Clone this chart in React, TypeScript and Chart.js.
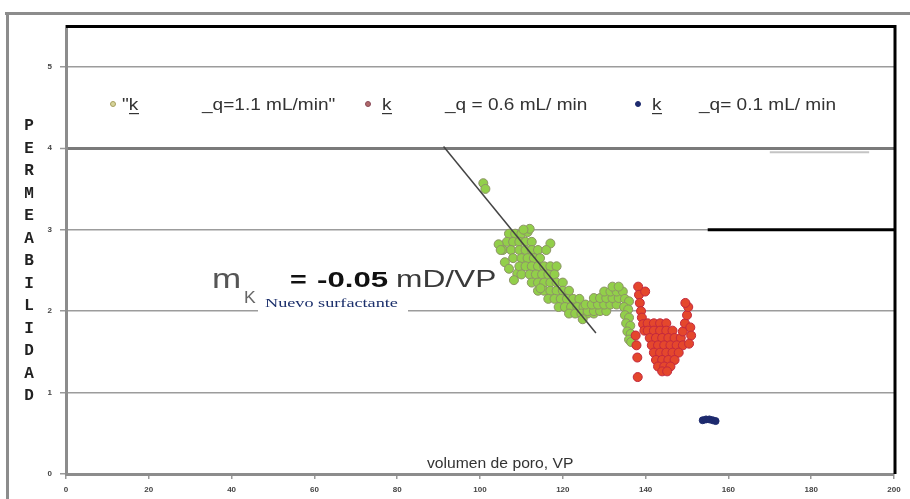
import React, { useEffect, useRef } from 'react';
import { Chart, registerables } from 'chart.js';

Chart.register(...registerables);

// ---- data ----
const xTickValues = [0, 20, 40, 60, 80, 100, 120, 140, 160, 180, 200];
const yTickValues = [0, 1, 2, 3, 4, 5];

const legendKLabels = ['"k', 'k', 'k'];
const legendQLabels = ['_q=1.1 mL/min"', '_q = 0.6 mL/ min', '_q= 0.1 mL/ min'];
const seriesNames = ['"k_ _q=1.1 mL/min"', 'k_ _q = 0.6 mL/ min', 'k_ _q= 0.1 mL/ min'];

const axisXTitle = 'volumen de poro, VP';
const axisYTitle = 'PERMEABILIDAD';
const slopeSymbol = 'm';
const slopeSub = 'K';
const slopeEq = '=';
const slopeValue = '-0.05';
const slopeUnit = 'mD/VP';
const slopeNote = 'Nuevo surfactante';

const q11Points: [number, number][] = [
  [100.8, 3.57], [101.3, 3.5],
  [107, 2.95], [108.5, 2.95], [110, 2.95], [111.5, 2.97], [112, 3.01], [110.5, 3.0],
  [106.5, 2.85], [108, 2.85], [109.5, 2.85], [111, 2.85], [112.5, 2.85],
  [105.5, 2.75], [107.5, 2.75], [109.5, 2.75], [111, 2.75], [112.5, 2.75], [114, 2.75],
  [104.5, 2.82], [105, 2.75], [117, 2.83], [116, 2.75],
  [108, 2.65], [110, 2.65], [111.5, 2.65], [113, 2.65], [114.5, 2.65],
  [106, 2.6], [107, 2.52], [109, 2.46], [108.2, 2.38],
  [109.5, 2.55], [111, 2.55], [112.5, 2.55], [114, 2.55], [115.5, 2.55], [117, 2.55], [118.5, 2.55],
  [110, 2.45], [112, 2.45], [113.5, 2.45], [115, 2.45], [116.5, 2.45], [118, 2.45],
  [112.5, 2.35], [114, 2.35], [115.5, 2.35], [117, 2.35], [118.5, 2.35], [120, 2.35],
  [114, 2.25], [115.5, 2.25], [117, 2.25], [118.5, 2.25], [120, 2.25], [121.5, 2.25], [114.6, 2.28],
  [116.5, 2.15], [118, 2.15], [119.5, 2.15], [121, 2.15], [122.5, 2.15], [124, 2.15],
  [119, 2.05], [120.5, 2.05], [122, 2.05], [123.5, 2.05], [125, 2.05], [126.5, 2.05],
  [121.5, 1.97], [123, 1.97], [124.5, 1.97], [126, 1.97], [127.5, 1.97], [124.8, 1.9],
  [126, 2.0], [127.5, 2.0], [129, 2.0], [130.5, 2.0],
  [125.5, 2.08], [127, 2.08], [128.5, 2.08], [130, 2.08], [131.5, 2.08], [133, 2.08],
  [127.5, 2.16], [129, 2.16], [130.5, 2.16], [132, 2.16], [133.5, 2.16],
  [130, 2.24], [131.5, 2.24], [133, 2.24], [134.5, 2.24],
  [132, 2.3], [133.5, 2.3],
  [135, 2.15], [136, 2.12], [134.8, 2.05], [135.8, 2.02], [135, 1.95], [136, 1.92],
  [135.3, 1.85], [136.3, 1.82], [135.6, 1.75], [136.4, 1.72], [136, 1.65], [136.5, 1.62],
];

const q06Points: [number, number][] = [
  [138.2, 2.3], [138.4, 2.2], [138.6, 2.1], [138.9, 2.0], [139.1, 1.92], [139.4, 1.84],
  [139.9, 2.24], [139.7, 1.76], [137.6, 1.7], [137.8, 1.58],
  [140.5, 1.85], [142, 1.85], [143.5, 1.85], [145, 1.85],
  [140.5, 1.76], [142, 1.76], [143.5, 1.76], [145, 1.76], [146.5, 1.76],
  [141, 1.67], [142.5, 1.67], [144, 1.67], [145.5, 1.67], [147, 1.67], [148.5, 1.67],
  [141.5, 1.58], [143, 1.58], [144.5, 1.58], [146, 1.58], [147.5, 1.58], [149, 1.58],
  [142, 1.49], [143.5, 1.49], [145, 1.49], [146.5, 1.49], [148, 1.49],
  [142.5, 1.4], [144, 1.4], [145.5, 1.4], [147, 1.4],
  [143, 1.32], [144.5, 1.32], [146, 1.32], [144, 1.26], [145.2, 1.26],
  [149, 1.75], [149.5, 1.85], [150, 1.95], [150.3, 2.05], [149.6, 2.1],
  [150.8, 1.8], [151, 1.7], [150.5, 1.6],
  [138, 1.43], [138.1, 1.19],
];

const q01Points: [number, number][] = [
  [153.8, 0.66], [154.6, 0.67], [155.4, 0.67], [156.2, 0.66], [156.9, 0.65],
];

const trendLine: [number, number][] = [[91.2, 4.02], [128, 1.73]];
const blackSegment: [number, number][] = [[155, 3.0], [200, 3.0]];
const greySegment: [number, number][] = [[170, 3.95], [194, 3.95]];

const toXY = (arr: [number, number][]) => arr.map(([x, y]) => ({ x, y }));

function drawStretched(
  ctx: CanvasRenderingContext2D,
  text: string,
  x: number,
  y: number,
  font: string,
  color: string,
  sx: number
) {
  ctx.save();
  ctx.translate(x, y);
  ctx.scale(sx, 1);
  ctx.font = font;
  ctx.fillStyle = color;
  ctx.textBaseline = 'alphabetic';
  ctx.textAlign = 'left';
  ctx.fillText(text, 0, 0);
  ctx.restore();
}

const decorPlugin = {
  id: 'decor',
  beforeDraw(chart: any) {
    const { ctx, width, height } = chart;
    ctx.save();
    ctx.fillStyle = '#ffffff';
    ctx.fillRect(0, 0, width, height);
    ctx.strokeStyle = '#8c8c8c';
    ctx.lineWidth = 3;
    ctx.beginPath();
    ctx.moveTo(5, 13.5);
    ctx.lineTo(width, 13.5);
    ctx.moveTo(7.5, 12);
    ctx.lineTo(7.5, height);
    ctx.stroke();
    ctx.restore();
  },
  beforeDatasetsDraw(chart: any) {
    const { ctx } = chart;
    ctx.save();
    ctx.fillStyle = '#ffffff';
    ctx.fillRect(258, 300, 150, 16);
    ctx.restore();
  },
  afterDatasetsDraw(chart: any) {
    const { ctx, chartArea } = chart;
    const { left, right, top, bottom } = chartArea;
    ctx.save();
    // plot border (top + right)
    ctx.strokeStyle = '#000';
    ctx.lineWidth = 3;
    ctx.beginPath();
    ctx.moveTo(left, top + 0.5);
    ctx.lineTo(right + 1, top + 0.5);
    ctx.lineTo(right + 1, bottom);
    ctx.stroke();

    // legend
    const legendX = [
      { m: 113, k: 122, q: 202 },
      { m: 368, k: 382, q: 445 },
      { m: 638, k: 652, q: 699 },
    ];
    const markerFill = ['#d6d49a', '#b06a6a', '#1d2a6e'];
    const markerStroke = ['#a8a060', '#8a4a5a', '#1d2a6e'];
    const ly = 110;
    const lfont = '17px "Liberation Sans", Arial';
    legendX.forEach((p, i) => {
      ctx.beginPath();
      ctx.arc(p.m, ly - 6, 2.5, 0, Math.PI * 2);
      ctx.fillStyle = markerFill[i];
      ctx.fill();
      ctx.strokeStyle = markerStroke[i];
      ctx.lineWidth = 1;
      ctx.stroke();
      drawStretched(ctx, legendKLabels[i], p.k, ly, lfont, '#333', 1.12);
      ctx.fillStyle = '#333';
      ctx.fillRect(p.k + (i === 0 ? 7 : 0), ly + 3, 10, 1.2);
      drawStretched(ctx, legendQLabels[i], p.q, ly, lfont, '#333', 1.12);
    });

    // slope annotation
    drawStretched(ctx, slopeSymbol, 212, 288, '28px "Liberation Sans", Arial', '#555', 1.25);
    drawStretched(ctx, slopeSub, 244, 303, '16px "Liberation Sans", Arial', '#666', 1.1);
    drawStretched(ctx, slopeEq, 290, 287, 'bold 22px "Liberation Sans", Arial', '#111', 1.3);
    drawStretched(ctx, slopeValue, 317, 287, 'bold 22px "Liberation Sans", Arial', '#111', 1.42);
    drawStretched(ctx, slopeUnit, 396, 287, '24px "Liberation Sans", Arial', '#3a3a3a', 1.32);
    drawStretched(ctx, slopeNote, 265, 307, '13px "Liberation Serif", serif', '#1b2f6b', 1.4);

    // x axis title (inside plot)
    drawStretched(ctx, axisXTitle, 427, 468, '14px "Liberation Sans", Arial', '#333', 1.12);

    // y axis title, stacked letters
    ctx.font = 'bold 16px "Liberation Mono", monospace';
    ctx.fillStyle = '#222';
    ctx.textAlign = 'center';
    ctx.textBaseline = 'middle';
    axisYTitle.split('').forEach((ch, i) => {
      ctx.fillText(ch, 29, 126 + i * 22.5);
    });
    ctx.restore();
  },
};

export default function App() {
  const ref = useRef<HTMLCanvasElement>(null);
  useEffect(() => {
    const canvas = ref.current;
    if (!canvas) return;
    const chart = new Chart(canvas, {
      type: 'scatter',
      data: {
        datasets: [
          {
            label: 'trend',
            data: toXY(trendLine),
            showLine: true,
            borderColor: '#444',
            borderWidth: 1.5,
            pointRadius: 0,
            order: 0,
          } as any,
          {
            label: seriesNames[0],
            data: toXY(q11Points),
            backgroundColor: '#92cf4a',
            borderColor: '#8d9466',
            borderWidth: 1,
            pointRadius: 4.5,
            order: 2,
          },
          {
            label: seriesNames[1],
            data: toXY(q06Points),
            backgroundColor: '#e4472c',
            borderColor: '#c3283e',
            borderWidth: 1,
            pointRadius: 4.5,
            order: 1,
          },
          {
            label: seriesNames[2],
            data: toXY(q01Points),
            backgroundColor: '#1d2a6e',
            borderColor: '#1d2a6e',
            borderWidth: 1,
            pointRadius: 3.5,
            order: 1,
          },
          {
            label: 'seg1',
            data: toXY(blackSegment),
            showLine: true,
            borderColor: '#000',
            borderWidth: 3,
            pointRadius: 0,
            order: 3,
          } as any,
          {
            label: 'seg2',
            data: toXY(greySegment),
            showLine: true,
            borderColor: '#c4c4c4',
            borderWidth: 2,
            pointRadius: 0,
            order: 3,
          } as any,
        ],
      },
      options: {
        responsive: false,
        animation: false,
        devicePixelRatio: 1,
        layout: { padding: { top: 26, right: 16, left: 0, bottom: 0 } },
        plugins: {
          legend: { display: false },
          tooltip: { enabled: false },
          title: { display: false },
        },
        scales: {
          x: {
            type: 'linear',
            min: 0,
            max: 200,
            afterBuildTicks: (s: any) => {
              s.ticks = xTickValues.map((v) => ({ value: v }));
            },
            afterFit: (s: any) => {
              s.height = 25;
            },
            ticks: {
              font: { size: 8, weight: 'bold', family: '"Liberation Sans", Arial' },
              color: '#444',
              padding: 6,
              maxRotation: 0,
            },
            grid: {
              drawOnChartArea: false,
              drawTicks: true,
              tickLength: 5,
              color: '#999',
              lineWidth: 1.5,
            },
            border: { color: '#8c8c8c', width: 3 },
          },
          y: {
            type: 'linear',
            min: 0,
            max: 5.5,
            afterBuildTicks: (s: any) => {
              s.ticks = yTickValues.map((v) => ({ value: v }));
            },
            afterFit: (s: any) => {
              s.width = 66;
            },
            ticks: {
              font: { size: 8, weight: 'bold', family: '"Liberation Sans", Arial' },
              color: '#444',
              padding: 8,
            },
            grid: {
              color: (c: any) => (c.tick && c.tick.value === 4 ? '#7a7a7a' : '#9c9c9c'),
              lineWidth: (c: any) => (c.tick && c.tick.value === 4 ? 3 : 1.5),
              tickLength: 6,
              tickColor: '#999',
              tickWidth: 1.5,
            },
            border: { color: '#8c8c8c', width: 3 },
          },
        },
      },
      plugins: [decorPlugin],
    });
    return () => chart.destroy();
  }, []);

  return (
    <div style={{ position: 'fixed', left: 0, top: 0, width: 910, height: 499, background: '#fff' }}>
      <canvas ref={ref} width={910} height={499} style={{ display: 'block', width: 910, height: 499 }} />
    </div>
  );
}
